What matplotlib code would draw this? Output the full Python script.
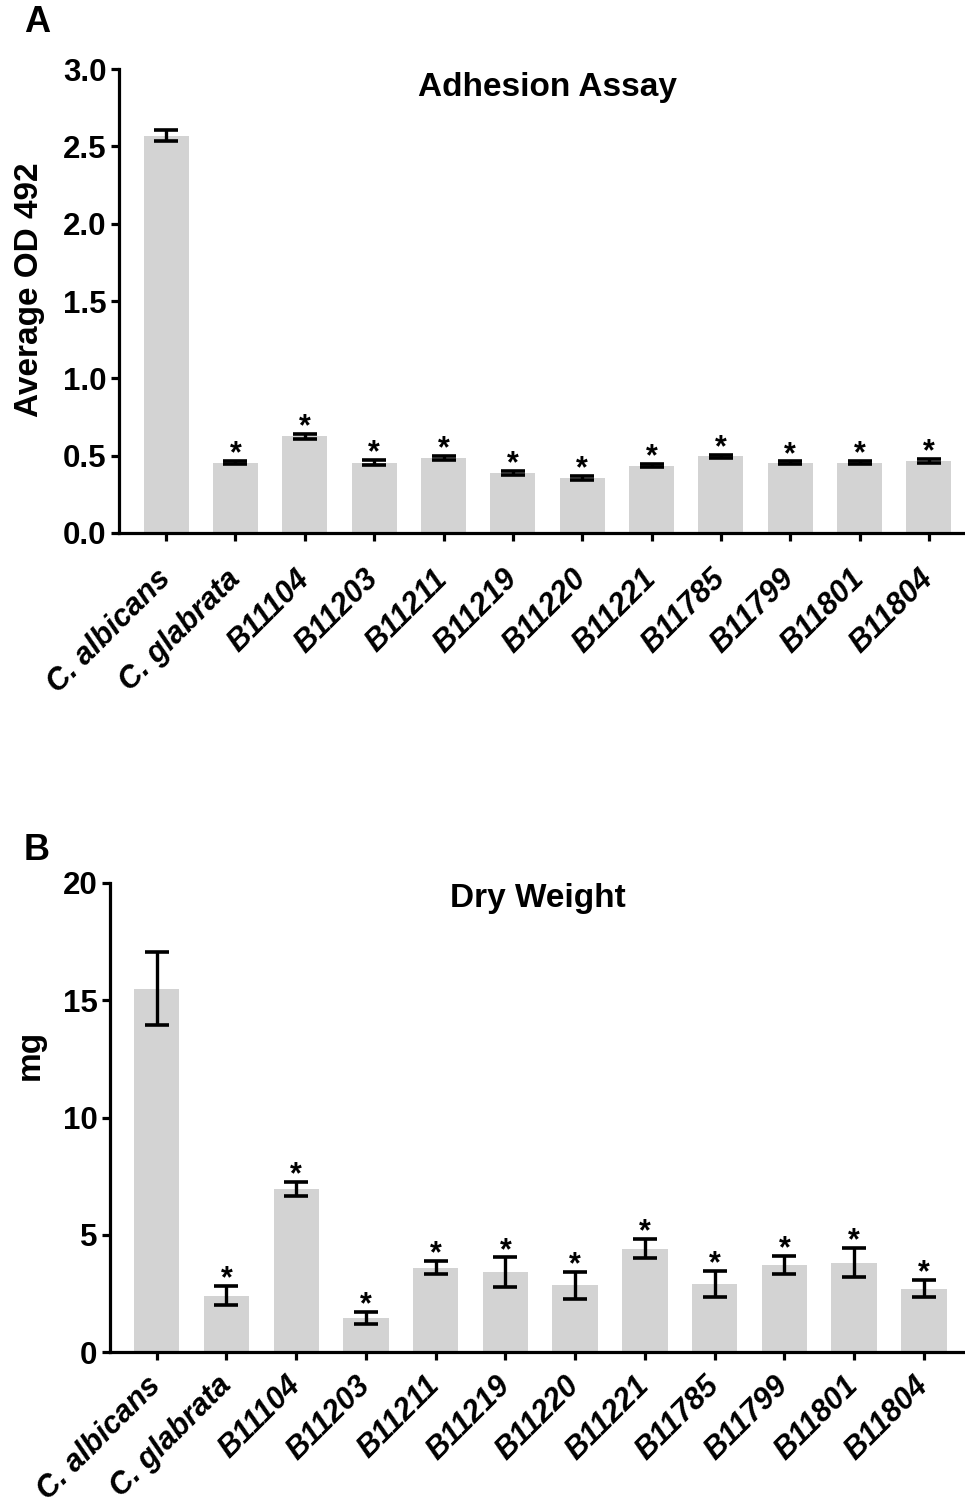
import matplotlib
matplotlib.use("Agg")
import matplotlib.pyplot as plt
import numpy as np

plt.rcParams['font.family'] = ['Liberation Sans', 'DejaVu Sans']

strains = ["C. albicans", "C. glabrata", "B11104", "B11203", "B11211", "B11219",
           "B11220", "B11221", "B11785", "B11799", "B11801", "B11804"]

adhesion_mean = [2.57, 0.455, 0.625, 0.455, 0.485, 0.387, 0.355, 0.435, 0.497, 0.455, 0.455, 0.465]
adhesion_err = [0.035, 0.01, 0.015, 0.015, 0.015, 0.012, 0.015, 0.01, 0.01, 0.008, 0.01, 0.012]
adhesion_sig = [False] + [True] * 11

dry_mean = [15.5, 2.4, 6.95, 1.45, 3.6, 3.4, 2.85, 4.4, 2.9, 3.72, 3.8, 2.7]
dry_err = [1.55, 0.4, 0.3, 0.27, 0.28, 0.63, 0.58, 0.41, 0.54, 0.39, 0.62, 0.37]
dry_sig = [False] + [True] * 11

W, H = 965, 1505
fig = plt.figure(figsize=(W / 100, H / 100), dpi=100)

def frac(left, right, top, bottom):
    return [left / W, 1 - bottom / H, (right - left) / W, (bottom - top) / H]

axA = fig.add_axes(frac(119, 965, 69, 533))
axB = fig.add_axes(frac(110, 965, 883, 1352))

bar_color = '#d3d3d3'

def draw(ax, means, errs, sig, ymax, yticks, ticklabels, ylabel, lab_xy, title, title_xy, xlim, xpad):
    x = np.arange(len(strains))
    ax.bar(x, means, width=0.65, color=bar_color, zorder=1)
    ax.errorbar(x, means, yerr=errs, fmt='none', ecolor='black', elinewidth=2.4,
                capsize=8.3, capthick=2.6, zorder=2)
    for xi, m, e, s in zip(x, means, errs, sig):
        if s:
            ax.annotate('*', xy=(xi, m + e), xytext=(0, -1), textcoords='offset points',
                        ha='center', va='baseline', fontsize=22, fontweight='bold')
    ax.set_xlim(*xlim)
    ax.set_ylim(0, ymax)
    ax.set_yticks(yticks)
    ax.set_yticklabels(ticklabels, fontsize=22.5, fontweight='bold')
    ax.set_xticks(x)
    ax.set_xticklabels(strains, rotation=45, ha='right', va='center', rotation_mode='anchor',
                       fontsize=22, fontweight='bold', fontstyle='italic')
    for sp in ['top', 'right']:
        ax.spines[sp].set_visible(False)
    for sp in ['left', 'bottom']:
        ax.spines[sp].set_linewidth(2.3)
    ax.tick_params(axis='both', width=2.3, length=6, pad=3)
    ax.tick_params(axis='x', pad=xpad)
    ax.set_ylabel(ylabel, fontsize=24, fontweight='bold')
    ax.yaxis.set_label_coords(*lab_xy)
    ax.text(title_xy[0], title_xy[1], title, transform=ax.transAxes, ha='center', va='center',
            fontsize=24, fontweight='bold')

draw(axA, adhesion_mean, adhesion_err, adhesion_sig, 3.0,
     [0, 0.5, 1.0, 1.5, 2.0, 2.5, 3.0],
     ["0.0", "0.5", "1.0", "1.5", "2.0", "2.5", "3.0"],
     "Average OD 492", (-0.088, 0.524), "Adhesion Assay", (0.506, 0.961), (-0.68, 11.52), 24)
draw(axB, dry_mean, dry_err, dry_sig, 20,
     [0, 5, 10, 15, 20], ["0", "5", "10", "15", "20"],
     "mg", (-0.075, 0.633), "Dry Weight", (0.5, 0.968), (-0.67, 11.59), 15)

fig.text(37 / W, 1 - 23 / H, "A", ha='center', va='center', fontsize=26, fontweight='bold')
fig.text(37 / W, 1 - 850 / H, "B", ha='center', va='center', fontsize=26, fontweight='bold')

fig.savefig("out.png", dpi=100)
